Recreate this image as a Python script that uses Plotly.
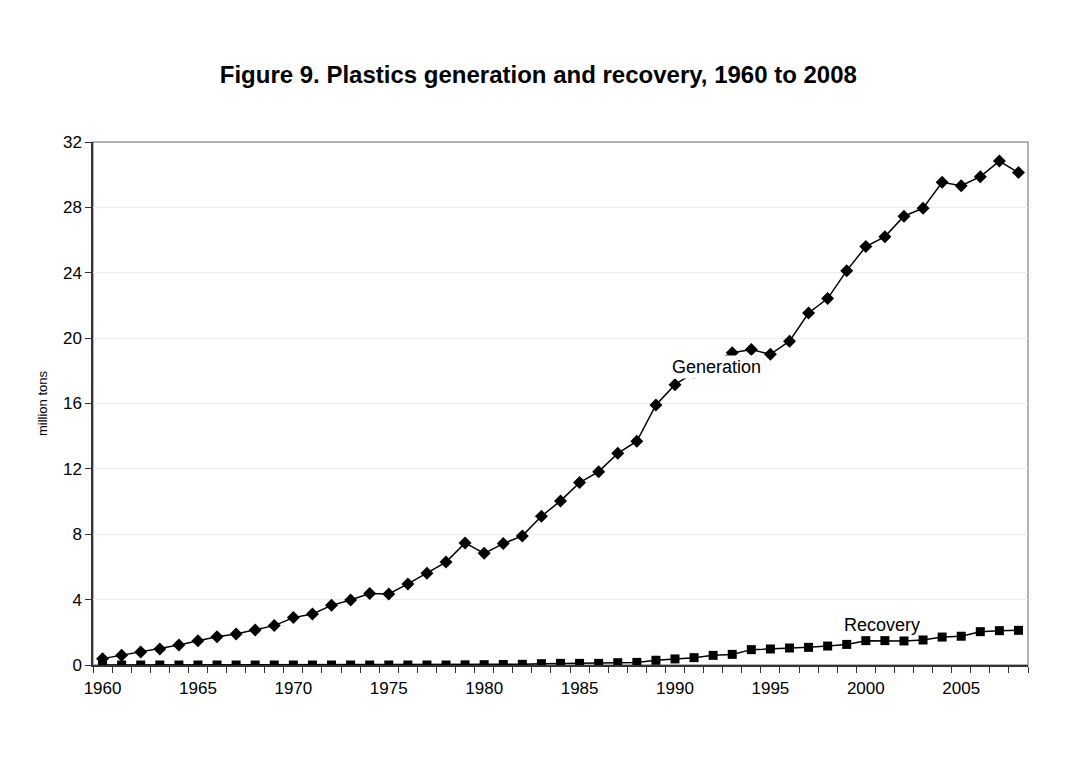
import plotly.graph_objects as go

years = list(range(1960, 2009))
generation = [0.39, 0.59, 0.80, 0.98, 1.22, 1.49, 1.73, 1.90, 2.14, 2.41,
              2.90, 3.12, 3.65, 3.98, 4.37, 4.35, 4.96, 5.61, 6.30, 7.47,
              6.83, 7.43, 7.90, 9.10, 10.04, 11.16, 11.83, 12.95, 13.69, 15.91,
              17.15, 17.90, 18.50, 19.11, 19.30, 19.01, 19.81, 21.54, 22.42, 24.13,
              25.60, 26.21, 27.46, 27.95, 29.54, 29.32, 29.88, 30.83, 30.13]
recovery = [0.0, 0.0, 0.0, 0.0, 0.0, 0.0, 0.0, 0.0, 0.0, 0.0,
            0.0, 0.0, 0.0, 0.0, 0.0, 0.0, 0.0, 0.0, 0.0, 0.01,
            0.02, 0.03, 0.04, 0.08, 0.10, 0.10, 0.10, 0.14, 0.16, 0.29,
            0.37, 0.45, 0.59, 0.65, 0.94, 0.98, 1.04, 1.08, 1.16, 1.26,
            1.49, 1.49, 1.47, 1.53, 1.71, 1.76, 2.04, 2.10, 2.12]
x_tick_labels = [1960, 1965, 1970, 1975, 1980, 1985, 1990, 1995, 2000, 2005]
y_tick_vals = [0, 4, 8, 12, 16, 20, 24, 28, 32]

FONT = "Liberation Sans, Arial, sans-serif"

fig = go.Figure()
fig.add_trace(go.Scatter(
    x=years, y=generation, mode="lines+markers", name="Generation",
    line=dict(color="black", width=1.5),
    marker=dict(symbol="diamond", size=10, color="black"),
))
fig.add_trace(go.Scatter(
    x=years, y=recovery, mode="lines+markers", name="Recovery",
    line=dict(color="black", width=1.5),
    marker=dict(symbol="square", size=9, color="black"),
))

fig.add_annotation(x=1992.2, y=18.25, text="Generation", showarrow=False,
                   bgcolor="white", font=dict(family=FONT, size=18, color="black"))
fig.add_annotation(x=2000.85, y=2.45, text="Recovery", showarrow=False,
                   font=dict(family=FONT, size=18, color="black"))

fig.update_layout(
    width=1079, height=768,
    paper_bgcolor="white", plot_bgcolor="white",
    margin=dict(l=85, r=59, t=134, b=111),
    showlegend=False,
    font=dict(family=FONT, color="black"),
    title=dict(text="<b>Figure 9. Plastics generation and recovery, 1960 to 2008</b>",
               x=0.4915, xanchor="center", y=0.9128, yanchor="middle",
               font=dict(family=FONT, size=24, color="black")),
    xaxis=dict(
        range=[1959.5, 2008.5], tickmode="array", tickvals=x_tick_labels,
        ticktext=[str(v) for v in x_tick_labels],
        ticks="", showgrid=False, zeroline=False,
        showline=True, linecolor="#333333", linewidth=1.5, mirror=False,
        tickfont=dict(family=FONT, size=17, color="black"),
        ticklabelstandoff=7,
        minor=dict(tick0=1959.5, dtick=1, ticks="outside", ticklen=6,
                   tickcolor="#333333", showgrid=False),
    ),
    yaxis=dict(
        range=[0, 32], tickmode="array", tickvals=y_tick_vals,
        ticks="outside", ticklen=6, tickcolor="#333333",
        showgrid=True, gridcolor="#ececec", gridwidth=1, zeroline=False,
        showline=True, linecolor="#333333", linewidth=1.5,
        tickfont=dict(family=FONT, size=17, color="black"),
        title=dict(text="million tons", font=dict(family=FONT, size=13, color="black"),
                   standoff=12),
    ),
    shapes=[dict(type="rect", xref="paper", yref="paper", x0=0, x1=1, y0=0, y1=1,
                 line=dict(color="#999999", width=1.5), layer="below")],
)

fig.write_html("out.html")
